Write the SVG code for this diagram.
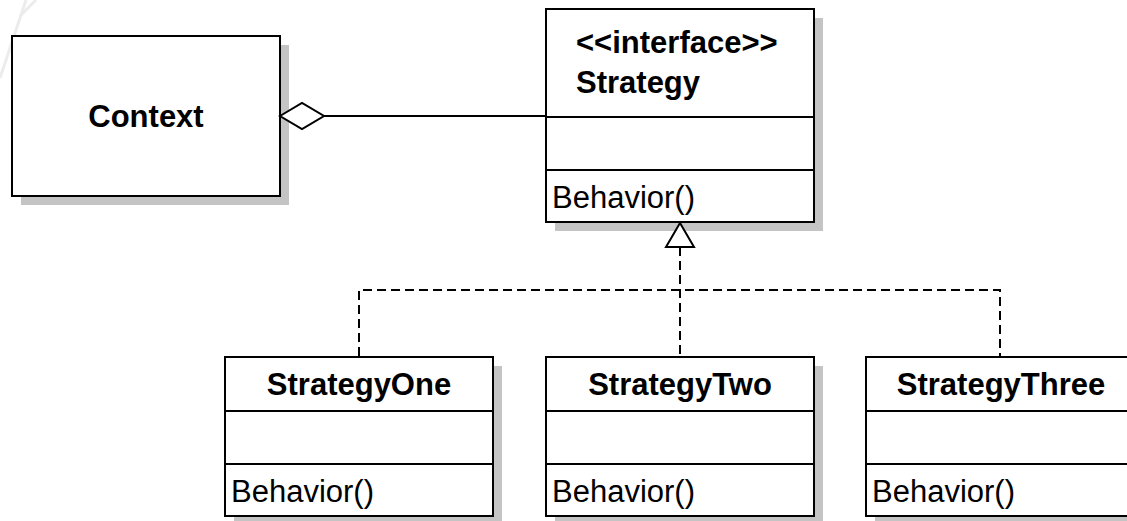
<svg xmlns="http://www.w3.org/2000/svg" width="1127" height="521" viewBox="0 0 1127 521">
<style>
.box{fill:#fff;stroke:#000;stroke-width:2}
.shadow{fill:#c4c4c4}
.div{stroke:#000;stroke-width:2}
.bold{font-family:"Liberation Sans",Arial,sans-serif;font-weight:bold;font-size:31px;fill:#000}
.reg{font-family:"Liberation Sans",Arial,sans-serif;font-size:31px;fill:#000}
.line{fill:none;stroke:#000;stroke-width:2}
.dash{fill:none;stroke:#000;stroke-width:2;stroke-dasharray:9 5}
.deco{fill:none;stroke:#ececec;stroke-width:3}
</style>
<rect width="1127" height="521" fill="#fff"/>
<g id="decoration">
<line class="deco" x1="0" y1="78" x2="26" y2="0"/>
<line class="deco" x1="20" y1="16" x2="36" y2="0"/>
</g>
<g id="context">
<rect class="shadow" x="21" y="45" width="268" height="160"/>
<rect class="box" x="12" y="36" width="268" height="160"/>
<text class="bold" x="146" y="127" text-anchor="middle">Context</text>
</g>
<g id="strategy">
<rect class="shadow" x="555" y="18" width="268" height="213"/>
<rect class="box" x="546" y="9" width="268" height="213"/>
<line class="div" x1="546" y1="117" x2="814" y2="117"/>
<line class="div" x1="546" y1="170" x2="814" y2="170"/>
<text class="bold" x="576" y="53">&lt;&lt;interface&gt;&gt;</text>
<text class="bold" x="576" y="93">Strategy</text>
<text class="reg" x="552" y="208">Behavior()</text>
</g>
<g id="strategyOne">
<rect class="shadow" x="234" y="366" width="268" height="159"/>
<rect class="box" x="225" y="357" width="268" height="159"/>
<line class="div" x1="225" y1="411" x2="493" y2="411"/>
<line class="div" x1="225" y1="464" x2="493" y2="464"/>
<text class="bold" x="359" y="395" text-anchor="middle">StrategyOne</text>
<text class="reg" x="231" y="502">Behavior()</text>
</g>
<g id="strategyTwo">
<rect class="shadow" x="555" y="366" width="268" height="159"/>
<rect class="box" x="546" y="357" width="268" height="159"/>
<line class="div" x1="546" y1="411" x2="814" y2="411"/>
<line class="div" x1="546" y1="464" x2="814" y2="464"/>
<text class="bold" x="680" y="395" text-anchor="middle">StrategyTwo</text>
<text class="reg" x="552" y="502">Behavior()</text>
</g>
<g id="strategyThree">
<rect class="shadow" x="875" y="366" width="268" height="159"/>
<rect class="box" x="866" y="357" width="268" height="159"/>
<line class="div" x1="866" y1="411" x2="1134" y2="411"/>
<line class="div" x1="866" y1="464" x2="1134" y2="464"/>
<text class="bold" x="1001" y="395" text-anchor="middle">StrategyThree</text>
<text class="reg" x="872" y="502">Behavior()</text>
</g>
<g id="connectors">
<line class="line" x1="324" y1="116" x2="546" y2="116"/>
<polygon points="280,116 302,103 324,116 302,129" fill="#fff" stroke="#000" stroke-width="2"/>
<polyline class="dash" points="359,356 359,290 1000,290 1000,356"/>
<line class="dash" x1="680" y1="247" x2="680" y2="356"/>
<polygon points="680,223 694,247 666,247" fill="#fff" stroke="#000" stroke-width="2"/>
</g>
</svg>
